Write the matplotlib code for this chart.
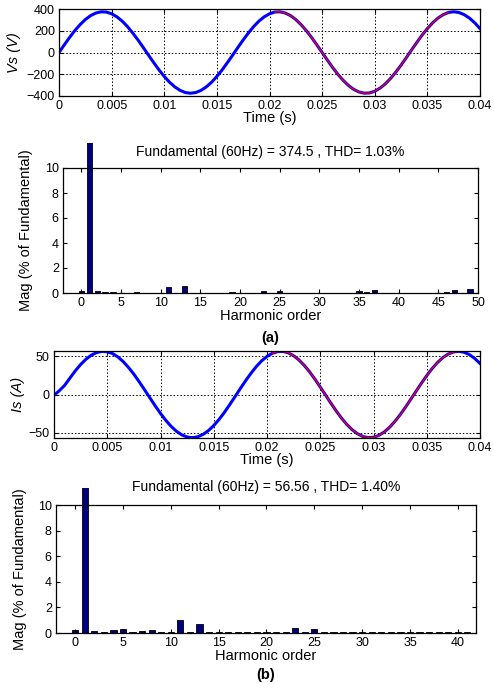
import numpy as np
import matplotlib.pyplot as plt
from matplotlib.transforms import Bbox, TransformedBbox

plt.rcParams['font.family'] = ['Liberation Sans', 'DejaVu Sans']

# waveform samples, every 0.5 ms from 0 to 0.04 s
t = [k / 2000 for k in range(81)]
vs = [0, 70, 138, 201, 256, 303, 339, 363, 374, 372, 356, 328, 289, 239, 180,
      116, 47, -24, -93, -160, -220, -273, -316, -348, -368, -374.5, -368,
      -348, -316, -273, -220, -160, -93, -24, 47, 116, 180, 239, 289, 328, 356,
      372, 374, 363, 339, 303, 256, 201, 138, 70, 0, -70, -138, -201, -256,
      -303, -339, -363, -374, -372, -356, -328, -289, -239, -180, -116, -47,
      24, 93, 160, 220, 273, 316, 348, 368, 374.5, 368, 348, 316, 273, 220]
is_ = [-1, 5, 12, 21.6, 31.0, 39.3, 46.2, 51.5, 55.0, 56.5, 56.0, 53.6,
       49.2, 43.1, 35.4, 26.6, 16.7, 6.3, -4.3, -14.8, -24.8, -33.9, -41.8,
       -48.2, -52.9, -55.7, -56.6, -55.4, -52.3, -47.3, -40.7, -32.6, -23.4,
       -13.3, -2.8, 7.9, 18.2, 27.9, 36.7, 44.1, 49.9, 54.0, 56.2, 56.4, 54.6,
       50.8, 45.3, 38.1, 29.6, 20.1, 9.8, -0.8, -11.4, -21.6, -31.0, -39.3,
       -46.2, -51.5, -55.0, -56.5, -56.0, -53.6, -49.2, -43.1, -35.4, -26.6,
       -16.7, -6.3, 4.3, 14.8, 24.8, 33.9, 41.8, 48.2, 52.9, 55.7, 56.6, 55.4,
       52.3, 47.3, 40.7]
vs_win = (41, 75)   # FFT window (red) sample range
is_win = (41, 77)

# harmonic spectra (% of fundamental)
harm_a = list(range(51))
mag_a = [0.2, 100, 0.15, 0.07, 0.07, 0.03, 0.02, 0.07, 0.02, 0.02, 0.02, 0.5,
         0.02, 0.55, 0.02, 0.02, 0.02, 0.02, 0.02, 0.06, 0.02, 0.02, 0.02, 0.2,
         0.02, 0.2, 0.02, 0.02, 0.02, 0.02, 0.02, 0.02, 0.02, 0.02, 0.02, 0.2,
         0.08, 0.25, 0.02, 0.02, 0.02, 0.02, 0.02, 0.02, 0.02, 0.02, 0.08, 0.25,
         0.02, 0.3, 0.02]
harm_b = list(range(42))
mag_b = [0.2, 100, 0.12, 0.1, 0.25, 0.35, 0.1, 0.18, 0.2, 0.05, 0.05, 1.0,
         0.05, 0.7, 0.05, 0.05, 0.08, 0.08, 0.04, 0.04, 0.04, 0.04, 0.04, 0.4,
         0.04, 0.35, 0.04, 0.04, 0.04, 0.06, 0.04, 0.06, 0.04, 0.04, 0.04, 0.04,
         0.04, 0.04, 0.04, 0.04, 0.04, 0.04]

title_a = 'Fundamental (60Hz) = 374.5 , THD= 1.03%'
title_b = 'Fundamental (60Hz) = 56.56 , THD= 1.40%'

W, H = 494, 684
fig = plt.figure(figsize=(W / 100, H / 100), dpi=100)


def box(l, r, top, bot):
    return [l / W, 1 - bot / H, (r - l) / W, (bot - top) / H]


def style(ax):
    ax.tick_params(direction='in', top=True, right=True, length=3,
                   labelsize=9, pad=3)
    for s in ax.spines.values():
        s.set_linewidth(0.9)


def wave(ax, y, win, ylim, yticks, ylabel, labx):
    ax.plot(t, y, color='#0000ff', lw=2.2)
    a, b = win
    ax.plot(t[a:b], y[a:b], color='#ff0000', lw=0.9)
    ax.set_xlim(0, 0.04)
    ax.set_ylim(*ylim)
    ax.set_xticks([0, 0.005, 0.01, 0.015, 0.02, 0.025, 0.03, 0.035, 0.04])
    ax.set_xticklabels(['0', '0.005', '0.01', '0.015', '0.02', '0.025',
                        '0.03', '0.035', '0.04'])
    ax.set_yticks(yticks)
    ax.grid(True, color='black', ls=(0, (1.5, 2)), lw=0.7)
    ax.set_xlabel('Time (s)', fontsize=10.5, labelpad=-1)
    ax.set_ylabel(ylabel, fontsize=10.5, style='italic')
    ax.yaxis.set_label_coords(labx, 0.5)
    style(ax)


def spectrum(ax, h, m, xlim, xticks, top, labx):
    bars = ax.bar(h, m, width=0.65, color='#000080', edgecolor='black',
                  lw=0.6)
    ax.set_xlim(*xlim)
    ax.set_ylim(0, 10)
    ax.set_xticks(xticks)
    ax.set_yticks([0, 2, 4, 6, 8, 10])
    for p, v in zip(bars, m):
        if v > 10:
            p.set_clip_path(None)
            p.set_clip_box(TransformedBbox(
                Bbox.from_extents(xlim[0], -1, xlim[1], top), ax.transData))
    ax.set_xlabel('Harmonic order', fontsize=10.5, labelpad=0)
    ax.set_ylabel('Mag (% of Fundamental)', fontsize=10.5)
    ax.yaxis.set_label_coords(labx, 0.5)
    style(ax)


ax1 = fig.add_axes(box(59, 480, 9, 96))
wave(ax1, vs, vs_win, (-400, 400), [-400, -200, 0, 200, 400], 'Vs (V)', -0.09)

ax2 = fig.add_axes(box(63, 478, 168, 293))
spectrum(ax2, harm_a, mag_a, (-2.3, 50), range(0, 51, 5), 12.0, -0.072)
fig.text(270 / W, 1 - 152 / H, title_a, ha='center', va='center', fontsize=10)
fig.text(270 / W, 1 - 338 / H, '(a)', ha='center', va='center',
         fontsize=10.5, fontweight='bold')

ax3 = fig.add_axes(box(54, 480, 351, 438))
wave(ax3, is_, is_win, (-57, 57), [-50, 0, 50], 'Is (A)', -0.068)

ax4 = fig.add_axes(box(56, 476, 505, 633))
spectrum(ax4, harm_b, mag_b, (-2, 41.9), range(0, 41, 5), 11.3, -0.069)
fig.text(266 / W, 1 - 487 / H, title_b, ha='center', va='center', fontsize=10)
fig.text(266 / W, 1 - 675 / H, '(b)', ha='center', va='center',
         fontsize=10.5, fontweight='bold')

fig.savefig('out.png', dpi=100)
